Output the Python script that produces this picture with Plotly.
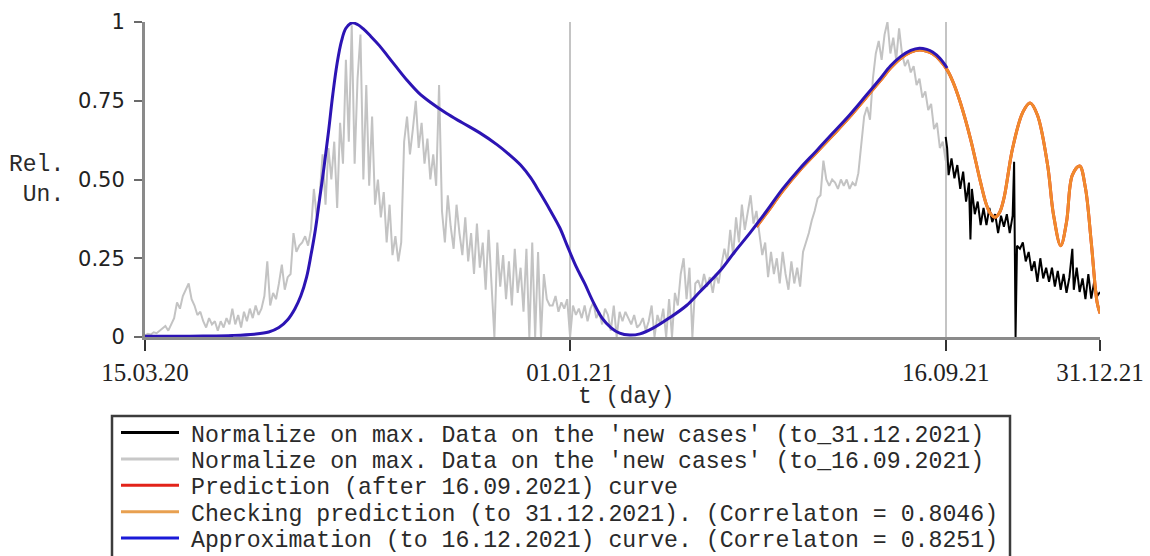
import pandas as pd
import plotly.graph_objects as go

START = pd.Timestamp("2020-03-15")
END = pd.Timestamp("2021-12-31")

tick_dates = ["2020-03-15", "2021-01-01", "2021-09-16", "2021-12-31"]
tick_labels = ["15.03.20", "01.01.21", "16.09.21", "31.12.21"]
y_ticks = [0, 0.25, 0.5, 0.75, 1]
y_labels = ["0", "0.25", "0.50", "0.75", "1"]

# Normalized 'new cases' up to 16.09.2021 (every second day from 15.03.2020)
gray_day = list(range(0, 551, 2))
gray_val = [
    0.005, 0.01, 0.008, 0.015, 0.012, 0.02, 0.025, 0.035, 0.02, 0.04,
    0.06, 0.11, 0.09, 0.13, 0.15, 0.17, 0.12, 0.10, 0.07, 0.08,
    0.05, 0.03, 0.06, 0.04, 0.05, 0.02, 0.05, 0.03, 0.06, 0.04,
    0.09, 0.04, 0.07, 0.03, 0.08, 0.05, 0.09, 0.06, 0.10, 0.07,
    0.09, 0.13, 0.24, 0.10, 0.14, 0.12, 0.17, 0.23, 0.15, 0.19,
    0.20, 0.33, 0.27, 0.29, 0.30, 0.32, 0.29, 0.34, 0.47, 0.38,
    0.45, 0.58, 0.42, 0.60, 0.50, 0.62, 0.41, 0.68, 0.55, 0.88,
    0.62, 0.99, 0.55, 0.82, 0.96, 0.50, 0.80, 0.48, 0.70, 0.42,
    0.50, 0.38, 0.46, 0.30, 0.42, 0.26, 0.32, 0.24, 0.30, 0.62,
    0.70, 0.58, 0.66, 0.75, 0.60, 0.68, 0.55, 0.63, 0.50, 0.58,
    0.48, 0.80, 0.40, 0.30, 0.45, 0.35, 0.28, 0.42, 0.33, 0.26,
    0.38, 0.24, 0.33, 0.20, 0.36, 0.22, 0.30, 0.15, 0.34, 0.18,
    0.00, 0.30, 0.16, 0.26, 0.12, 0.24, 0.10, 0.28, 0.14, 0.22,
    0.08, 0.28, 0.00, 0.30, 0.00, 0.27, 0.00, 0.20, 0.12, 0.10,
    0.10, 0.13, 0.08, 0.11, 0.09, 0.12, 0.00, 0.10, 0.07, 0.09,
    0.06, 0.10, 0.05, 0.09, 0.11, 0.06, 0.08, 0.04, 0.09, 0.07,
    0.02, 0.10, 0.00, 0.08, 0.05, 0.08, 0.06, 0.04, 0.07, 0.03,
    0.04, 0.06, 0.02, 0.05, 0.10, 0.00, 0.07, 0.04, 0.09, 0.00,
    0.12, 0.00, 0.14, 0.10, 0.20, 0.25, 0.12, 0.22, 0.00, 0.17,
    0.18, 0.15, 0.20, 0.16, 0.19, 0.14, 0.20, 0.17, 0.23, 0.28,
    0.24, 0.34, 0.26, 0.38, 0.30, 0.42, 0.34, 0.40, 0.45, 0.36,
    0.40, 0.33, 0.26, 0.30, 0.19, 0.27, 0.20, 0.25, 0.17, 0.27,
    0.20, 0.15, 0.24, 0.17, 0.22, 0.16, 0.27, 0.30, 0.33, 0.37,
    0.40, 0.44, 0.45, 0.56, 0.50, 0.48, 0.50, 0.49, 0.47, 0.50,
    0.48, 0.50, 0.47, 0.49, 0.48, 0.52, 0.62, 0.70, 0.73, 0.69,
    0.82, 0.90, 0.94, 0.88, 0.96, 1.00, 0.90, 0.95, 0.88, 0.98,
    0.90, 0.86, 0.88, 0.84, 0.86, 0.80, 0.82, 0.76, 0.78, 0.72,
    0.74, 0.66, 0.68, 0.60, 0.62, 0.56,
]

# Normalized 'new cases' from 16.09.2021 to 31.12.2021
black_day = [550, 551, 552, 554, 556, 558, 560, 562, 564, 566, 567, 568, 570, 572,
             574, 576, 578, 580, 582, 584, 586, 588, 590, 592, 594, 596, 597, 598,
             599, 601, 603, 605, 607, 609, 611, 613, 615, 617, 619, 621, 623, 625,
             627, 629, 631, 633, 635, 637, 638, 640, 642, 644, 646, 648, 650, 652,
             654, 656]
black_val = [0.635, 0.60, 0.514, 0.567, 0.504, 0.546, 0.47, 0.525, 0.43, 0.49, 0.31,
             0.47, 0.39, 0.43, 0.355, 0.41, 0.355, 0.41, 0.365, 0.39, 0.33, 0.385,
             0.35, 0.39, 0.33, 0.385, 0.556, 0.0, 0.29, 0.28, 0.30, 0.24, 0.27, 0.21,
             0.24, 0.175, 0.25, 0.186, 0.22, 0.175, 0.22, 0.16, 0.21, 0.15, 0.20,
             0.14, 0.19, 0.28, 0.15, 0.22, 0.143, 0.186, 0.12, 0.20, 0.122, 0.175,
             0.13, 0.143]

# Approximation curve
approx_day = [0, 20, 40, 60, 75, 85, 92, 98, 103, 107, 111, 114, 117, 120, 123, 126,
              129, 132, 135, 138, 142, 146, 150, 155, 161, 167, 173, 180, 188, 196,
              207, 218, 230, 242, 250, 258, 265, 271, 278, 285, 290, 296, 302, 308,
              314, 320, 326, 333, 340, 349, 360, 372, 381, 395, 405, 416, 427, 438,
              450, 461, 472, 484, 495, 505, 512, 519, 526, 532, 537, 541, 546, 551]
approx_val = [0.002, 0.002, 0.003, 0.005, 0.009, 0.016, 0.03, 0.055, 0.09, 0.13, 0.19,
              0.26, 0.34, 0.44, 0.54, 0.65, 0.77, 0.87, 0.94, 0.98, 0.997, 0.992, 0.978,
              0.955, 0.925, 0.89, 0.855, 0.815, 0.775, 0.745, 0.71, 0.68, 0.648, 0.61,
              0.58, 0.546, 0.505, 0.46, 0.405, 0.346, 0.29, 0.225, 0.17, 0.11, 0.06,
              0.03, 0.012, 0.006, 0.01, 0.028, 0.06, 0.10, 0.143, 0.21, 0.27, 0.333,
              0.40, 0.47, 0.536, 0.59, 0.645, 0.705, 0.765, 0.82, 0.86, 0.89, 0.91,
              0.917, 0.913, 0.905, 0.885, 0.854]

# Checking prediction curve
check_day = [420, 427, 438, 450, 461, 472, 484, 495, 505, 512, 519, 526, 532, 537, 541,
             546, 551, 555, 560, 567, 574, 578, 581, 584, 587, 590, 596, 603, 608, 613,
             620, 624, 629, 633, 637, 642, 646, 650, 654, 656]
check_val = [0.35, 0.393, 0.463, 0.53, 0.584, 0.638, 0.698, 0.758, 0.813, 0.853, 0.884,
             0.904, 0.911, 0.907, 0.899, 0.879, 0.848, 0.81, 0.745, 0.63, 0.49, 0.42,
             0.39, 0.38, 0.395, 0.44, 0.60, 0.714, 0.743, 0.705, 0.546, 0.39, 0.29,
             0.365, 0.514, 0.543, 0.473, 0.30, 0.11, 0.075]

# Prediction curve after 16.09.2021
pred_day = list(check_day)
pred_val = list(check_val)

legend_rows = [
    ("Normalize on max. Data on the 'new cases' (to_31.12.2021)", "#000000"),
    ("Normalize on max. Data on the 'new cases' (to_16.09.2021)", "#c8c8c8"),
    ("Prediction (after 16.09.2021) curve", "#e2231a"),
    ("Checking prediction (to 31.12.2021). (Correlaton = 0.8046)", "#e8a050"),
    ("Approximation (to 16.12.2021) curve. (Correlaton = 0.8251)", "#1a1ad8"),
]


def to_dates(days):
    return [START + pd.Timedelta(days=d) for d in days]


# plot area in pixels
W, H = 1150, 556
L, R, T, B = 145, 1100, 22, 337


def px_x(x):
    return (x - L) / (R - L)


def px_y(y):
    return (B - y) / (B - T)


fig = go.Figure()
fig.add_trace(go.Scatter(x=to_dates(gray_day), y=gray_val, mode="lines",
                         line=dict(color="#c3c3c3", width=2), showlegend=False))
fig.add_trace(go.Scatter(x=to_dates(black_day), y=black_val, mode="lines",
                         line=dict(color="#000000", width=2), showlegend=False))
fig.add_trace(go.Scatter(x=to_dates(pred_day), y=pred_val, mode="lines",
                         line=dict(color="#e2231a", width=3, shape="spline"),
                         showlegend=False))
fig.add_trace(go.Scatter(x=to_dates(check_day), y=check_val, mode="lines",
                         line=dict(color="#f08a2c", width=3, shape="spline"),
                         showlegend=False))
fig.add_trace(go.Scatter(x=to_dates(approx_day), y=approx_val, mode="lines",
                         line=dict(color="#2c14b4", width=3, shape="spline"),
                         showlegend=False))

mono = "Liberation Mono"
annotations = [
    dict(text="Rel.<br>Un.", x=px_x(66), y=px_y(180), xref="paper", yref="paper",
         xanchor="right", yanchor="middle", align="right", showarrow=False,
         font=dict(family=mono, size=23, color="#2a2a2a")),
    dict(text="t (day)", x=px_x(626), y=px_y(397), xref="paper", yref="paper",
         xanchor="center", yanchor="middle", showarrow=False,
         font=dict(family=mono, size=23, color="#2a2a2a")),
]
shapes = [
    dict(type="rect", xref="paper", yref="paper", x0=px_x(112), x1=px_x(1010),
         y0=px_y(416), y1=px_y(580), line=dict(color="#3c3c3c", width=2.5),
         fillcolor="rgba(0,0,0,0)", layer="above"),
]
for i, (label, color) in enumerate(legend_rows):
    row_y = 435.5 + 26.4 * i
    shapes.append(dict(type="line", xref="paper", yref="paper",
                       x0=px_x(121), x1=px_x(179), y0=px_y(row_y - 3), y1=px_y(row_y - 3),
                       line=dict(color=color, width=3)))
    annotations.append(dict(text=label, x=px_x(189), y=px_y(row_y), xref="paper",
                            yref="paper", xanchor="left", yanchor="middle",
                            showarrow=False,
                            font=dict(family=mono, size=23.2, color="#2a2a2a")))

fig.update_layout(
    width=W, height=H, autosize=False,
    margin=dict(l=L, r=W - R, t=T, b=H - B, pad=0),
    plot_bgcolor="white", paper_bgcolor="white",
    annotations=annotations, shapes=shapes,
    xaxis=dict(
        type="date", range=[START, END], automargin=False,
        tickmode="array", tickvals=tick_dates, ticktext=tick_labels,
        showline=True, linecolor="#8a8a8a", linewidth=3,
        ticks="outside", ticklen=11, tickwidth=2, tickcolor="#333333",
        showgrid=True, gridcolor="#c4c4c4", gridwidth=1.5, zeroline=False,
        tickfont=dict(family="Liberation Serif", size=25, color="#222222"),
        ticklabelstandoff=0,
    ),
    yaxis=dict(
        range=[0, 1], automargin=False,
        tickmode="array", tickvals=y_ticks, ticktext=y_labels,
        showline=True, linecolor="#8a8a8a", linewidth=3,
        ticks="outside", ticklen=8, tickwidth=2, tickcolor="#6a6a6a",
        showgrid=False, zeroline=False,
        tickfont=dict(family="DejaVu Sans", size=21, color="#222222"),
        ticklabelstandoff=5,
    ),
)

fig.write_html("out.html")
